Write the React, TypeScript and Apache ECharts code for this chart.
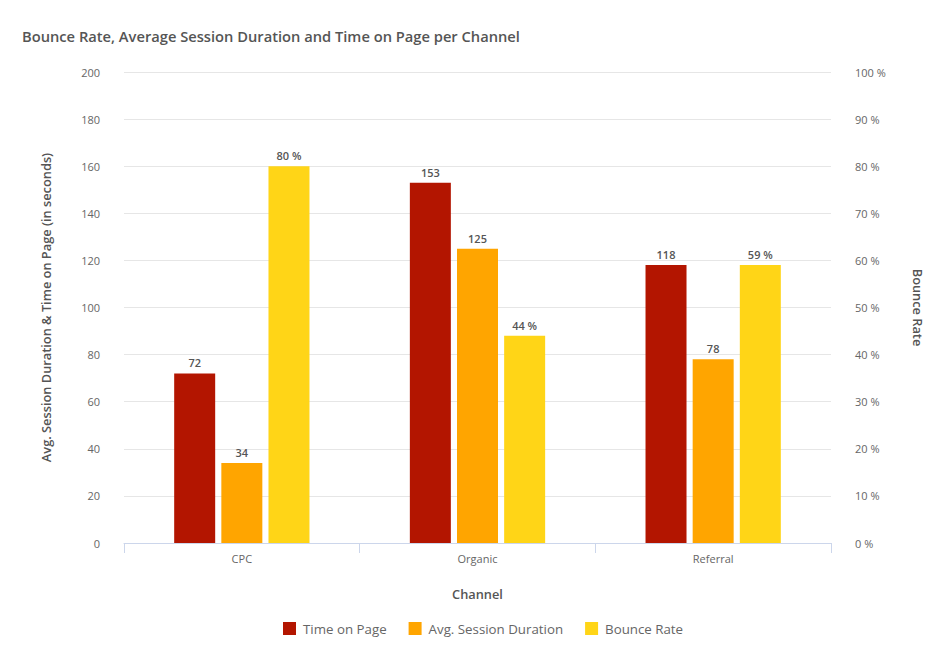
import React, { useEffect, useRef } from "react";
import * as echarts from "echarts";

const categories = ["CPC", "Organic", "Referral"];
const timeOnPage = [72, 153, 118];
const avgSessionDuration = [34, 125, 78];
const bounceRate = [80, 44, 59];
const leftTicks = { min: 0, max: 200, interval: 20 };
const rightTicks = { min: 0, max: 100, interval: 10 };

const FONT = "Open Sans";

export default function App() {
  const ref = useRef<HTMLDivElement>(null);
  useEffect(() => {
    if (!ref.current) return;
    const chart = echarts.init(ref.current, null, { renderer: "svg" });
    const labelStyle = {
      show: true,
      position: "top" as const,
      distance: 5,
      color: "#555",
      fontSize: 11,
      fontWeight: 600 as any,
      fontFamily: FONT,
    };
    chart.setOption({
      animation: false,
      backgroundColor: "#fff",
      textStyle: { fontFamily: FONT },
      title: {
        text: "Bounce Rate, Average Session Duration and Time on Page per Channel",
        left: 17,
        top: 23,
        textStyle: { fontFamily: FONT, fontSize: 14.7, fontWeight: 600, color: "#555" },
      },
      legend: {
        bottom: 23,
        left: 278,
        icon: "rect",
        itemWidth: 13,
        itemHeight: 13,
        itemGap: 22,
        textStyle: { fontFamily: FONT, fontSize: 13.3, color: "#666", padding: [0, 0, 0, 2] },
        data: ["Time on Page", "Avg. Session Duration", "Bounce Rate"],
      },
      grid: { left: 124, right: 120, top: 72, bottom: 120 },
      xAxis: {
        type: "category",
        data: categories,
        name: "Channel",
        nameLocation: "middle",
        nameGap: 44,
        nameTextStyle: { fontFamily: FONT, fontSize: 12.8, color: "#555", fontWeight: 600 },
        axisLine: { lineStyle: { color: "#ccd6eb" } },
        axisTick: { show: true, length: 10, lineStyle: { color: "#ccd6eb" } },
        axisLabel: { color: "#666", fontSize: 11, margin: 10, fontFamily: FONT },
      },
      yAxis: [
        {
          type: "value",
          ...leftTicks,
          name: "Avg. Session Duration & Time on Page (in seconds)",
          nameLocation: "middle",
          nameGap: 72,
          nameRotate: 90,
          nameTextStyle: { fontFamily: FONT, fontSize: 12.8, color: "#555", fontWeight: 600 },
          axisLine: { show: false },
          axisTick: { show: false },
          axisLabel: { color: "#666", fontSize: 11, margin: 24, fontFamily: FONT },
          splitLine: { lineStyle: { color: "#e6e6e6" } },
        },
        {
          type: "value",
          ...rightTicks,
          name: "Bounce Rate",
          nameLocation: "middle",
          nameGap: 80,
          nameRotate: -90,
          nameTextStyle: { fontFamily: FONT, fontSize: 12.8, color: "#555", fontWeight: 600 },
          axisLine: { show: false },
          axisTick: { show: false },
          axisLabel: { color: "#666", fontSize: 11, margin: 24, fontFamily: FONT, formatter: "{value} %" },
          splitLine: { show: false },
        },
      ],
      series: [
        {
          name: "Time on Page",
          type: "bar",
          yAxisIndex: 0,
          data: timeOnPage,
          barWidth: 41,
          barGap: "15%",
          itemStyle: { color: "#B31500" },
          label: labelStyle,
        },
        {
          name: "Avg. Session Duration",
          type: "bar",
          yAxisIndex: 0,
          data: avgSessionDuration,
          barWidth: 41,
          barGap: "15%",
          itemStyle: { color: "#FFA500" },
          label: labelStyle,
        },
        {
          name: "Bounce Rate",
          type: "bar",
          yAxisIndex: 1,
          data: bounceRate,
          barWidth: 41,
          barGap: "15%",
          itemStyle: { color: "#FFD517" },
          label: { ...labelStyle, formatter: "{c} %" },
        },
      ],
    });
    return () => chart.dispose();
  }, []);
  return <div ref={ref} style={{ width: 951, height: 663, margin: -8 }} />;
}
